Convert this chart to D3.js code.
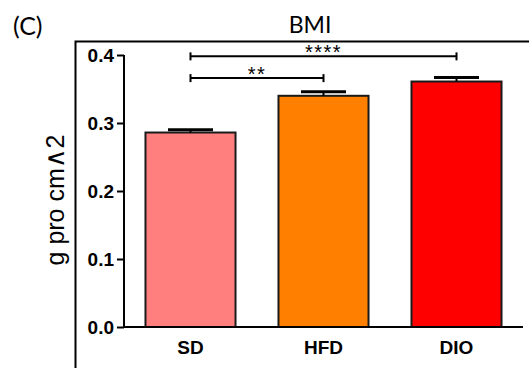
<!DOCTYPE html>
<html>
<head>
<meta charset="utf-8">
<script src="https://cdn.jsdelivr.net/npm/d3@7"></script>
<style>
  body { margin: 0; background: #fff; }
  svg { display: block; }
</style>
</head>
<body>
<svg id="chart" width="529" height="368"></svg>
<script>
// data
const groups = ['SD', 'HFD', 'DIO'];
const means = [0.286, 0.340, 0.361];
const sems = [0.004, 0.006, 0.006];
const fills = ['#FF7F7F', '#FF8000', '#FF0000'];
const yTicks = [0.0, 0.1, 0.2, 0.3, 0.4];
const sig = [
  {from: 'SD', to: 'HFD', label: '**', level: 0.366},
  {from: 'SD', to: 'DIO', label: '****', level: 0.398}
];

const ARIAL = "'Liberation Sans', Arial, sans-serif";
const svg = d3.select('#chart');
const W = 529, H = 368;

svg.append('rect').attr('width', W).attr('height', H).attr('fill', '#fff');

// panel frame (cut off at the right and bottom)
svg.append('path')
  .attr('d', 'M75.5,' + H + 'V41.5H' + W)
  .attr('fill', 'none')
  .attr('stroke', '#000')
  .attr('stroke-width', 2);

const x = d3.scaleBand().domain(groups).range([124, 523])
  .paddingInner(0.323).paddingOuter(0.1615);
const y = d3.scaleLinear().domain([0, 0.4]).range([327, 55]);

// bars
svg.selectAll('rect.bar')
  .data(groups)
  .enter().append('rect')
  .attr('class', 'bar')
  .attr('x', d => x(d))
  .attr('y', (d, i) => y(means[i]))
  .attr('width', x.bandwidth())
  .attr('height', (d, i) => y(0) - y(means[i]))
  .attr('fill', (d, i) => fills[i])
  .attr('stroke', '#1a1a1a')
  .attr('stroke-width', 2);

// error bars (upper only)
const eb = svg.selectAll('g.err').data(groups).enter().append('g');
eb.append('line')
  .attr('x1', d => x(d) + x.bandwidth() / 2)
  .attr('x2', d => x(d) + x.bandwidth() / 2)
  .attr('y1', (d, i) => y(means[i]))
  .attr('y2', (d, i) => y(means[i] + sems[i]))
  .attr('stroke', '#000').attr('stroke-width', 2);
eb.append('line')
  .attr('x1', d => x(d) + x.bandwidth() / 4)
  .attr('x2', d => x(d) + x.bandwidth() * 3 / 4)
  .attr('y1', (d, i) => y(means[i] + sems[i]))
  .attr('y2', (d, i) => y(means[i] + sems[i]))
  .attr('stroke', '#000').attr('stroke-width', 3);

// axes
const yAxis = svg.append('g')
  .attr('transform', 'translate(124,0)')
  .call(d3.axisLeft(y).tickValues(yTicks).tickFormat(d3.format('.1f')).tickSize(7).tickPadding(3));
yAxis.attr('font-family', ARIAL).attr('font-size', 19).attr('font-weight', 'bold');
yAxis.select('.domain').attr('d', 'M0,' + y(0.4) + 'V' + y(0)).attr('stroke-width', 2);
yAxis.selectAll('.tick line').attr('stroke-width', 2);
yAxis.selectAll('text').attr('fill', '#000');

const xAxis = svg.append('g')
  .attr('transform', 'translate(0,' + y(0) + ')')
  .call(d3.axisBottom(x).tickSize(0).tickPadding(14));
xAxis.attr('font-family', ARIAL).attr('font-size', 19).attr('font-weight', 'bold');
xAxis.select('.domain').attr('d', 'M123,0H523').attr('stroke-width', 2);
xAxis.selectAll('text').attr('fill', '#000');

// significance brackets
sig.forEach(s => {
  const x1 = x(s.from) + x.bandwidth() / 2;
  const x2 = x(s.to) + x.bandwidth() / 2;
  const yy = y(s.level);
  const g = svg.append('g').attr('stroke', '#000').attr('stroke-width', 2);
  g.append('line').attr('x1', x1).attr('x2', x2).attr('y1', yy).attr('y2', yy);
  g.append('line').attr('x1', x1).attr('x2', x1).attr('y1', yy - 4).attr('y2', yy + 4);
  g.append('line').attr('x1', x2).attr('x2', x2).attr('y1', yy - 4).attr('y2', yy + 4);
  svg.append('text')
    .attr('x', (x1 + x2) / 2)
    .attr('y', yy + 2.5)
    .attr('text-anchor', 'middle')
    .attr('font-family', ARIAL)
    .attr('font-size', 20)
    .attr('letter-spacing', 1.5)
    .text(s.label);
});

// title, panel letter, y label
svg.append('text')
  .attr('x', 310).attr('y', 33)
  .attr('text-anchor', 'middle')
  .attr('font-family', 'Lato, sans-serif')
  .attr('font-size', 23)
  .text('BMI');

svg.append('text')
  .attr('x', 13).attr('y', 35)
  .attr('font-family', 'Lato, sans-serif')
  .attr('font-size', 25)
  .text('(C)');

const ylab = svg.append('text')
  .attr('transform', 'translate(64,200) rotate(-90)')
  .attr('text-anchor', 'middle')
  .attr('font-family', ARIAL)
  .attr('font-size', 25);
ylab.append('tspan').text('g pro cm');
ylab.append('tspan').attr('font-family', "'DejaVu Sans', sans-serif").attr('font-size', 27).text('\u2227');
ylab.append('tspan').text('2');
</script>
</body>
</html>
